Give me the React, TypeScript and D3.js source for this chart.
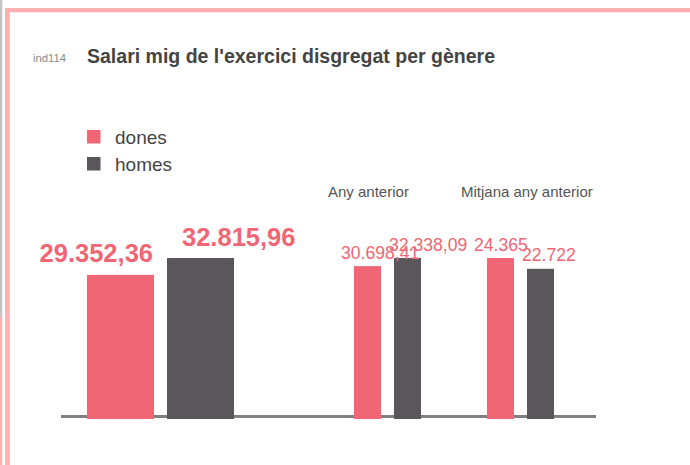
import React from 'react';
import * as d3 from 'd3';

const series = ['dones', 'homes'];
const colors = ['#f06674', '#5b565c'];
const currentValues = [29352.36, 32815.96];
const prevYearValues = [30698.41, 32338.09];
const prevAvgValues = [24365, 22722];
const groupTitles = ['', 'Any anterior', 'Mitjana any anterior'];
const chartTitle = "Salari mig de l'exercici disgregat per gènere";
const chartCode = 'ind114';

const W = 690, H = 465;
const locale = d3.formatLocale({ decimal: ',', thousands: '.', grouping: [3], currency: ['', '€'] });
const fmt2 = locale.format(',.2f');
const fmt0 = locale.format(',.0f');

const baseY = 418;
const topY = 258;

type Group = { values: number[]; x0: number; w: number; gap: number; title: string; big: boolean; fmt: (n: number) => string };
const groups: Group[] = [
  { values: currentValues, x0: 87, w: 67, gap: 13, title: groupTitles[0], big: true, fmt: fmt2 },
  { values: prevYearValues, x0: 354, w: 27, gap: 13, title: groupTitles[1], big: false, fmt: fmt2 },
  { values: prevAvgValues, x0: 487, w: 27, gap: 13, title: groupTitles[2], big: false, fmt: fmt0 },
];

export default function App() {
  const font = "'Liberation Sans', Arial, sans-serif";
  return (
    <svg width={W} height={H} style={{ position: 'absolute', left: 0, top: 0, background: '#fff' }} fontFamily={font}>
      <rect x={0} y={0} width={W} height={H} fill="#fff" />
      {/* frame */}
      <rect x={0} y={0} width={2.3} height={317} fill="#c4c4c4" />
      <rect x={0} y={317} width={2.3} height={H - 317} fill="#ffb0b0" />
      <rect x={5} y={8} width={W - 5} height={4.3} fill="#ffb0b0" />
      <rect x={5} y={8} width={4.8} height={H - 8} fill="#ffb0b0" />

      {/* title */}
      <text x={33} y={62} fontSize={11.5} fill="#8a8a8a" textLength={33} lengthAdjust="spacingAndGlyphs">{chartCode}</text>
      <text x={87} y={63} fontSize={21} fontWeight="bold" fill="#444" textLength={408} lengthAdjust="spacingAndGlyphs">{chartTitle}</text>

      {/* legend */}
      {series.map((s, i) => (
        <g key={s} transform={`translate(87, ${130 + i * 27})`}>
          <rect x={0} y={0} width={13.5} height={13.5} fill={colors[i]} />
          <text x={28} y={13.5} fontSize={19} fill="#444">{s}</text>
        </g>
      ))}

      {/* axis line */}
      <line x1={61} x2={596} y1={416.5} y2={416.5} stroke="#808080" strokeWidth={3} />

      {groups.map((g, gi) => {
        const y = d3.scaleLinear().domain([0, d3.max(g.values) as number]).range([baseY, topY]);
        const x = d3.scaleBand<string>().domain(series)
          .range([g.x0, g.x0 + 2 * g.w + g.gap])
          .paddingInner(g.gap / (g.w + g.gap)).paddingOuter(0);
        return (
          <g key={gi}>
            {g.title && (
              <text x={g.x0 - 26} y={197} fontSize={15} fill="#555">{g.title}</text>
            )}
            {g.values.map((v, i) => {
              const bx = x(series[i]) as number;
              const by = y(v);
              return (
                <rect key={'b' + i} x={bx} y={by} width={x.bandwidth()} height={baseY + 1 - by} fill={colors[i]} />
              );
            })}
            {g.values.map((v, i) => {
              const bx = x(series[i]) as number;
              const by = y(v);
              if (g.big) {
                return i === 0 ? (
                  <text key={'l' + i} x={bx + x.bandwidth() - 1} y={by - 13} textAnchor="end" fontSize={25.5} fontWeight="bold" fill={colors[0]}>{g.fmt(v)}</text>
                ) : (
                  <text key={'l' + i} x={bx + 15} y={by - 12} textAnchor="start" fontSize={25.5} fontWeight="bold" fill={colors[0]}>{g.fmt(v)}</text>
                );
              }
              return (
                <text key={'l' + i} x={bx + (i === 0 ? -13 : -5)} y={by - 7.5} fontSize={17.6} fill={colors[0]}>{g.fmt(v)}</text>
              );
            })}
          </g>
        );
      })}
    </svg>
  );
}
